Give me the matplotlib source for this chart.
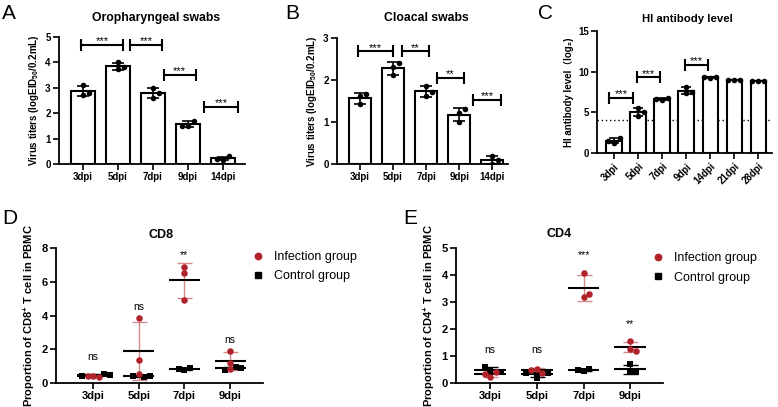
import numpy as np
import matplotlib.pyplot as plt
from matplotlib.lines import Line2D

plt.rcParams['font.family'] = ['Liberation Sans', 'Noto Sans CJK SC']
plt.rcParams['mathtext.fontset'] = 'custom'
plt.rcParams['mathtext.rm'] = 'Liberation Sans'
plt.rcParams['mathtext.bf'] = 'Liberation Sans:bold'
plt.rcParams['mathtext.it'] = 'Liberation Sans:italic'

# A - oropharyngeal swabs (3 birds per time point)
oro_days = ['3dpi', '5dpi', '7dpi', '9dpi', '14dpi']
oro_values = [[2.72, 3.10, 2.80], [3.75, 4.00, 3.80], [3.00, 2.60, 2.80],
              [1.50, 1.70, 1.50], [0.15, 0.30, 0.20]]
oro_sig = [(-0.05, 1.13, 4.7, '***'), (1.35, 2.26, 4.7, '***'),
           (2.31, 3.22, 3.52, '***'), (3.46, 4.42, 2.26, '***')]

# B - cloacal swabs
clo_days = ['3dpi', '5dpi', '7dpi', '9dpi', '14dpi']
clo_values = [[1.62, 1.42, 1.66], [2.31, 2.11, 2.41], [1.61, 1.85, 1.72],
              [1.21, 1.01, 1.31], [0.00, 0.20, 0.10]]
clo_sig = [(-0.07, 0.99, 2.68, '***'), (1.26, 2.09, 2.68, '**'),
           (2.32, 3.15, 2.05, '**'), (3.43, 4.27, 1.52, '***')]

# C - HI antibody
hi_days = ['3dpi', '5dpi', '7dpi', '9dpi', '14dpi', '21dpi', '28dpi']
hi_values = [[1.20, 1.85, 1.50], [4.60, 5.50, 5.00], [6.50, 6.80, 6.60],
             [7.35, 8.10, 7.55], [9.20, 9.40, 9.30], [9.00, 9.00, 9.00],
             [8.90, 8.90, 8.90]]
hi_cutoff = 4
hi_sig = [(-0.21, 0.79, 6.8, '***'), (0.93, 1.90, 9.3, '***'),
          (2.95, 3.92, 10.8, '***')]

# D / E - T cells
t_days = ['3dpi', '5dpi', '7dpi', '9dpi']
cd8_inf = [[0.40, 0.33, 0.43], [3.83, 1.35, 0.55], [6.87, 6.50, 4.92], [1.21, 1.90, 0.81]]
cd8_ctl = [[0.52, 0.40, 0.48], [0.36, 0.40, 0.42], [0.79, 0.91, 0.85], [0.95, 0.80, 0.91]]
cd8_sig = ['ns', 'ns', '**', 'ns']
cd8_sig_y = [1.55, 4.52, 7.6, 2.54]

cd4_inf = [[0.22, 0.41, 0.32], [0.53, 0.38, 0.50], [4.09, 3.20, 3.30], [1.25, 1.55, 1.19]]
cd4_ctl = [[0.45, 0.60, 0.40], [0.20, 0.38, 0.37], [0.45, 0.53, 0.47], [0.41, 0.69, 0.41]]
cd4_sig = ['ns', 'ns', '***', '**']
cd4_sig_y = [1.22, 1.22, 4.75, 2.2]

RED = '#b0232a'
RED_LIGHT = '#d48a8a'
W, H = 778, 407

fig = plt.figure(figsize=(W / 100, H / 100), dpi=100)


def box(l, t, r, b):
    return [l / W, 1 - b / H, (r - l) / W, (b - t) / H]


def swarm(vals, ylim, ax_h, cat_px, diam=5.5):
    # simple dot-plot spreading so that markers do not overlap
    placed, offs = [], []
    for v in vals:
        y = v / ylim * ax_h
        for k in [0, 1, -1, 2, -2, 3, -3]:
            x = k * diam
            if all((x - px) ** 2 + (y - py) ** 2 >= diam ** 2 for px, py in placed):
                break
        placed.append((x, y))
        offs.append(x / cat_px)
    return offs


def style(ax, days, yticks, fs):
    ax.spines[['top', 'right']].set_visible(False)
    ax.spines[['left', 'bottom']].set_linewidth(1.3)
    ax.set_ylim(0, yticks[-1])
    ax.set_yticks(yticks)
    ax.set_xticks(np.arange(len(days)))
    ax.set_xticklabels(days)
    ax.tick_params(width=1.2, length=4, labelsize=fs, pad=2)
    plt.setp(ax.get_xticklabels() + ax.get_yticklabels(), fontweight='bold')


def bar_panel(pos, days, values, sig, yticks, xlim, ylabel, fs=7, cap=4.3, bw=0.67):
    ax = fig.add_axes(box(*pos))
    x = np.arange(len(days))
    means = [np.mean(v) for v in values]
    sds = [np.std(v, ddof=1) for v in values]
    ax.bar(x, means, width=bw, color='white', edgecolor='black', linewidth=1.5, zorder=1)
    ax.errorbar(x, means, yerr=sds, fmt='none', ecolor='black', elinewidth=1.2,
                capsize=cap, capthick=1.2, zorder=2)
    ax_h = pos[3] - pos[1]
    cat_px = (pos[2] - pos[0]) / (xlim[1] - xlim[0])
    for i, v in enumerate(values):
        offs = swarm(v, yticks[-1], ax_h, cat_px, diam=6)
        ax.scatter(i + np.array(offs), v, s=16, color='black', zorder=3, linewidths=0)
    for x0, x1, y, lab in sig:
        ax.plot([x0, x1], [y, y], color='black', lw=1.5, marker='|', ms=9, mew=1.5,
                clip_on=False)
        ax.annotate(lab, ((x0 + x1) / 2, y), xytext=(0, 0.5), textcoords='offset points',
                    ha='center', va='baseline', fontsize=8)
    style(ax, days, yticks, fs)
    ax.set_xlim(*xlim)
    ax.set_ylabel(ylabel, fontsize=fs, fontweight='bold', labelpad=3)
    return ax


def dot_panel(pos, inf, ctl, sig, sig_y, yticks, xlim, ylabel):
    ax = fig.add_axes(box(*pos))
    ax_h = pos[3] - pos[1]
    cat_px = (pos[2] - pos[0]) / (xlim[1] - xlim[0])
    for i in range(len(t_days)):
        offs = swarm(inf[i] + ctl[i], yticks[-1], ax_h, cat_px)
        n = len(inf[i])
        for vals, o, col, ecol, mk, z in [(inf[i], offs[:n], RED, RED_LIGHT, 'o', 4),
                                          (ctl[i], offs[n:], 'black', 'black', 's', 3)]:
            m, s = np.mean(vals), np.std(vals, ddof=1)
            ax.errorbar(i, m, yerr=s, fmt='none', ecolor=ecol, elinewidth=1,
                        capsize=5.4, capthick=1, zorder=1)
            ax.hlines(m, i - 0.34, i + 0.34, color='black', lw=1.5, zorder=2)
            ax.scatter(i + np.array(o), vals, s=22, marker=mk, color=col, zorder=z,
                       linewidths=0)
        ax.text(i, sig_y[i], sig[i], ha='center', va='center', fontsize=7.5)
    style(ax, t_days, yticks, 8)
    ax.set_xlim(*xlim)
    ax.set_ylabel(ylabel, fontsize=8, fontweight='bold', labelpad=3)
    return ax


def px(x, y):
    return x / W, 1 - y / H


bar_panel((59, 37, 245, 164), oro_days, oro_values, oro_sig, [0, 1, 2, 3, 4, 5],
          (-0.69, 4.63), r'Virus titers (logEID$_{\mathbf{50}}$/0.2mL)')
bar_panel((337, 38, 508, 164), clo_days, clo_values, clo_sig, [0, 1, 2, 3],
          (-0.70, 4.48), r'Virus titers (logEID$_{\mathbf{50}}$/0.2mL)')
axc = bar_panel((597, 31, 772, 153), hi_days, hi_values, hi_sig, [0, 5, 10, 15],
                (-0.72, 6.57), 'HI antibody level（log₂)', cap=3.5, bw=0.65)
axc.axhline(hi_cutoff, color='black', lw=1, ls=(0, (1, 2)), zorder=0)
plt.setp(axc.get_xticklabels(), rotation=45, ha='right', rotation_mode='anchor')

dot_panel((56, 248, 263, 383), cd8_inf, cd8_ctl, cd8_sig, cd8_sig_y, [0, 2, 4, 6, 8],
          (-0.81, 3.72), r'Proportion of CD8$^{\mathbf{+}}$ T cell in PBMC')
dot_panel((456, 248, 663, 383), cd4_inf, cd4_ctl, cd4_sig, cd4_sig_y, [0, 1, 2, 3, 4, 5],
          (-0.73, 3.70), r'Proportion of CD4$^{\mathbf{+}}$ T cell in PBMC')

# titles
for x, y, t, fs in [(156, 21, 'Oropharyngeal swabs', 8.8), (426, 21, 'Cloacal swabs', 8.8),
                    (687, 21.5, 'HI antibody level', 8.2), (161, 238, 'CD8', 9),
                    (559, 237, 'CD4', 9)]:
    fig.text(*px(x, y), t, ha='center', va='baseline', fontsize=fs, fontweight='bold')

# panel letters
for x, y, t in [(2, 4, 'A'), (285, 4, 'B'), (538, 4, 'C'), (2, 209, 'D'), (403, 209, 'E')]:
    fig.text(*px(x, y), t, ha='left', va='top', fontsize=15)

# legends
handles = [Line2D([], [], ls='none', marker='o', color=RED, ms=4.6),
           Line2D([], [], ls='none', marker='s', color='black', ms=4.2)]
for ax_x, ax_y in [(252, 251), (652, 252)]:
    fig.legend(handles, ['Infection group', 'Control group'], loc='upper left',
               bbox_to_anchor=px(ax_x, ax_y), frameon=False, fontsize=9,
               handlelength=1, handletextpad=0.78, labelspacing=0.6,
               borderpad=0, borderaxespad=0)

fig.savefig('out.png', dpi=100)
